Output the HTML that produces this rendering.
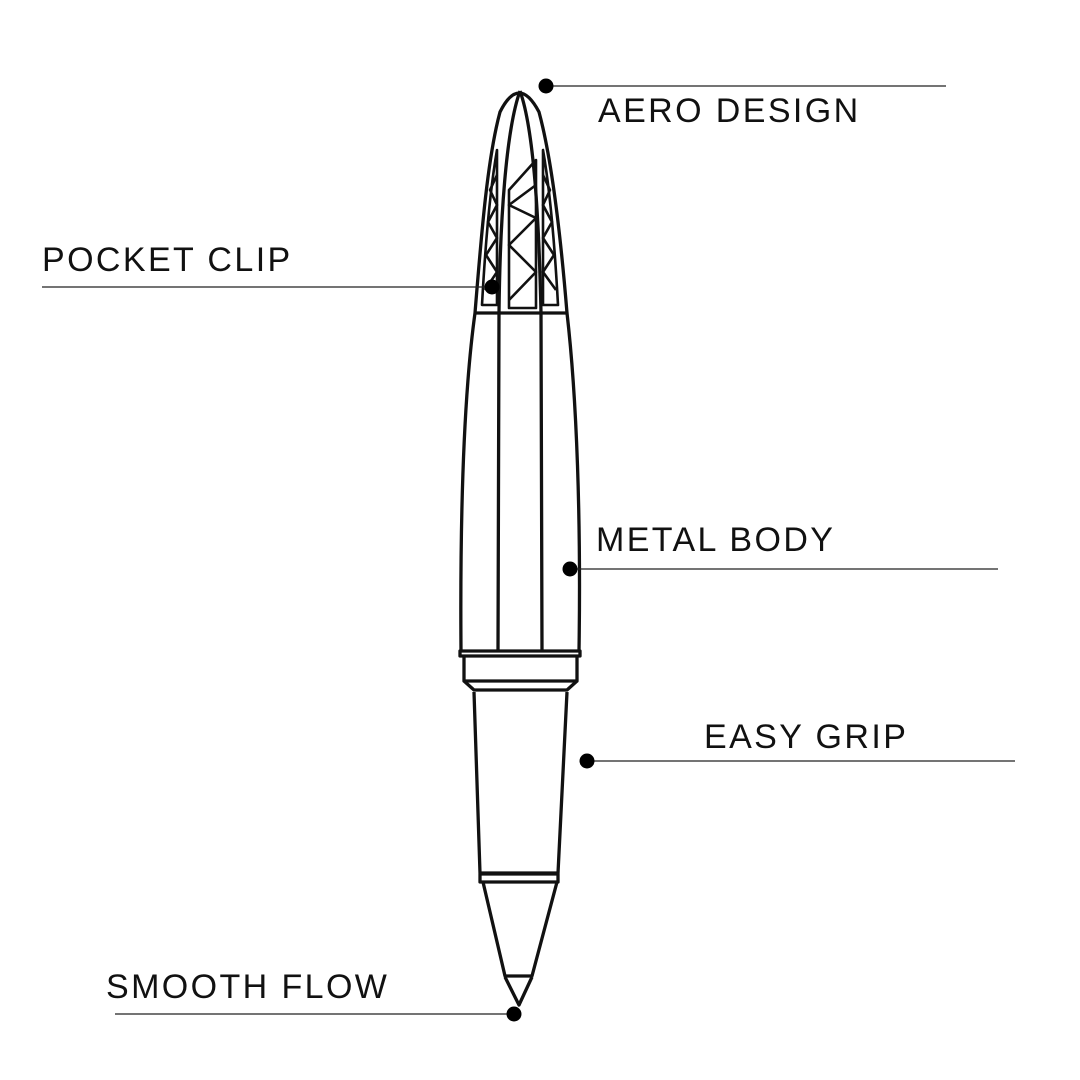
<!DOCTYPE html>
<html><head><style>
body{margin:0;background:#fff}
svg{display:block}
text{font-family:"Liberation Sans",sans-serif;font-size:34px;fill:#111;letter-spacing:2.4px}
</style></head><body>
<svg width="1080" height="1080" viewBox="0 0 1080 1080">
<g fill="none" stroke="#111" stroke-width="3.3" stroke-linejoin="round">
<!-- cap outline -->
<path d="M461,651 C460,520 463,400 475,313 C481,240 487,160 500,112 Q519,74 539,112 C552,160 561,240 567,313 C577,400 581,520 579,651"/>
<path d="M475,313 L567,313"/>
<!-- inner stripes -->
<path d="M498,651 L499,313 C500,220 506,130 520,91"/>
<path d="M542,651 L541,313 C539,220 534,130 520,91"/>
<!-- triangle lattice columns -->
<path d="M482,305 L497,305 L497,150 C490,190 485,250 482,305 Z" stroke-width="2.6"/>
<path d="M485,290 L497,272 L486,255 L497,238 L488,222 L497,205 L490,190 L497,175" stroke-width="2.6"/>
<path d="M509,308 L536,308 L536,160 L509,190 Z" stroke-width="2.6"/>
<path d="M509,300 L536,272 L509,245 L536,218 L509,205 L536,185" stroke-width="2.6"/>
<path d="M543,305 L558,305 C555,250 550,190 543,150 Z" stroke-width="2.6"/>
<path d="M556,290 L543,272 L554,255 L543,238 L552,222 L543,205 L550,190 L543,175" stroke-width="2.6"/>
<!-- ring & collar -->
<rect x="460" y="651" width="120" height="5"/>
<path d="M464,656 L464,681 L577,681 L577,656"/>
<path d="M464,681 L474,690 L567,690 L577,681"/>
<path d="M474,692 L480,873 L558,873 L567,692"/>
<rect x="480" y="874" width="78" height="8"/>
<path d="M483,882 L505,976 L532,976 L557,882"/>
<path d="M505,977 L519,1005 L532,977"/>
</g>
<g stroke="#222" stroke-width="1.3">
<line x1="546" y1="86" x2="946" y2="86"/>
<line x1="42" y1="287" x2="492" y2="287"/>
<line x1="570" y1="569" x2="998" y2="569"/>
<line x1="587" y1="761" x2="1015" y2="761"/>
<line x1="115" y1="1014" x2="514" y2="1014"/>
</g>
<g fill="#000">
<circle cx="546" cy="86" r="7.5"/>
<circle cx="492" cy="287" r="7.5"/>
<circle cx="570" cy="569" r="7.5"/>
<circle cx="587" cy="761" r="7.5"/>
<circle cx="514" cy="1014" r="7.5"/>
</g>
<text x="598" y="122">AERO DESIGN</text>
<text x="42" y="271">POCKET CLIP</text>
<text x="596" y="551">METAL BODY</text>
<text x="704" y="748">EASY GRIP</text>
<text x="106" y="998">SMOOTH FLOW</text>
</svg>
</body></html>
